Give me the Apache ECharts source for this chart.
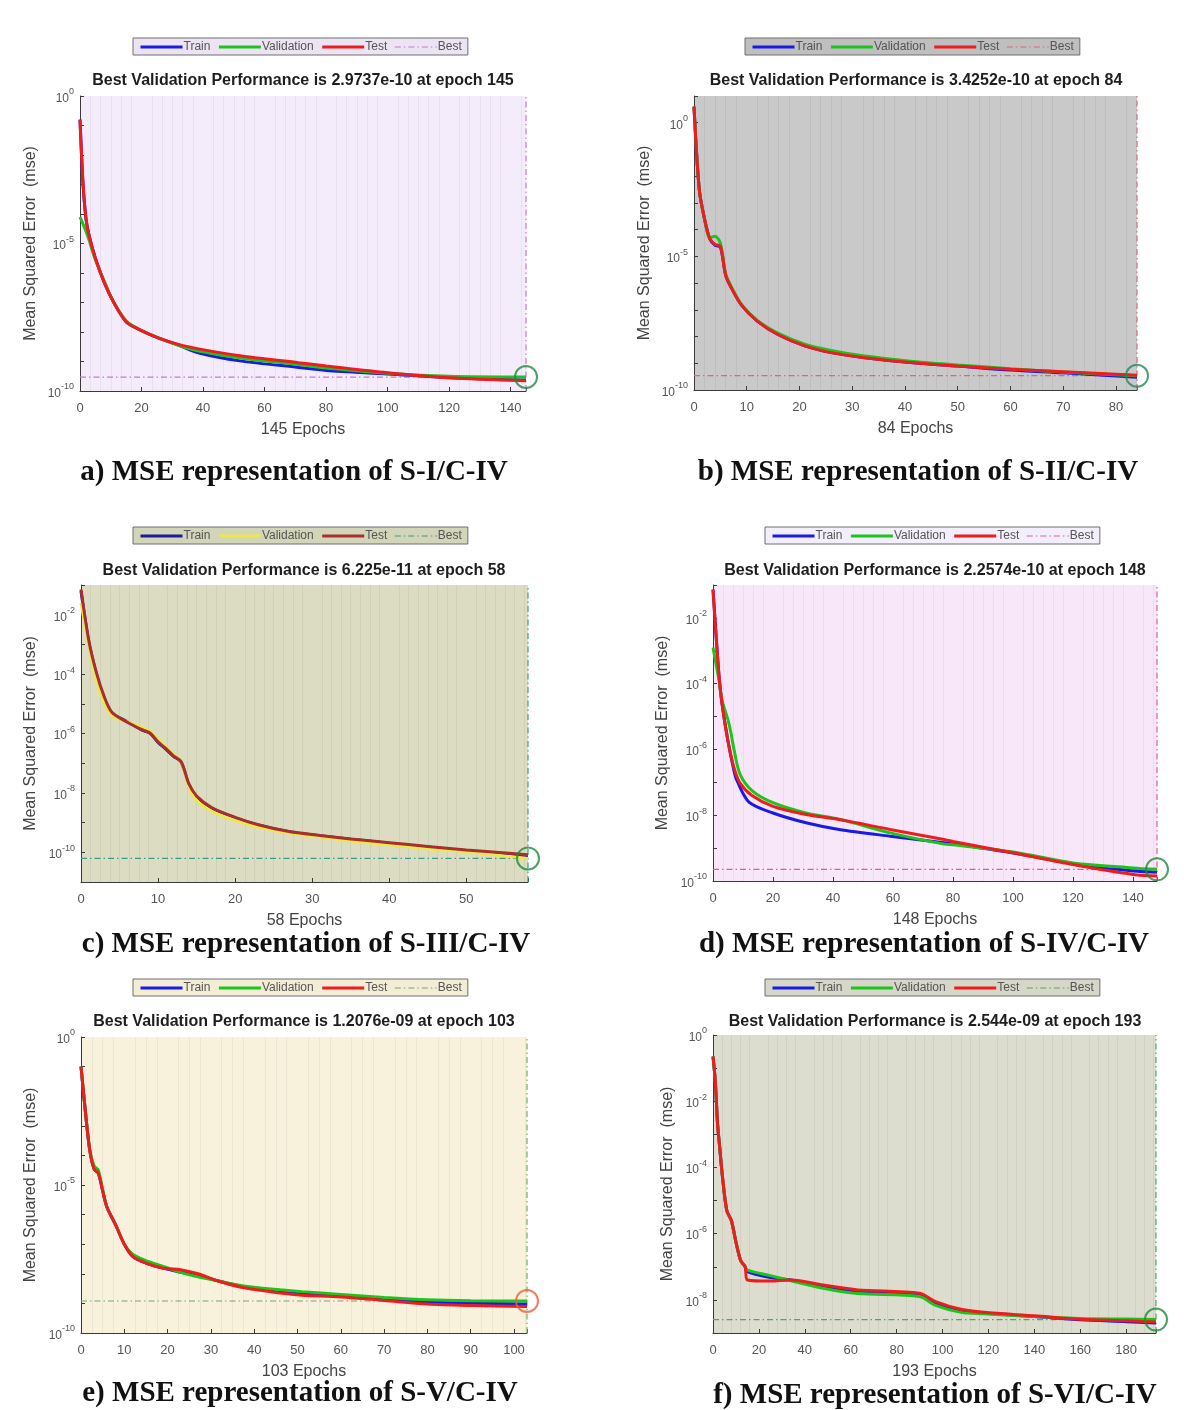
<!DOCTYPE html>
<html>
<head>
<meta charset="utf-8">
<script src="https://cdn.jsdelivr.net/npm/echarts@6/dist/echarts.min.js"></script>
<style>
html,body{margin:0;padding:0;background:#fff;}
#chart{width:1184px;height:1410px;}
</style>
</head>
<body>
<div id="chart"></div>
<script>
// ---------------- DATA ----------------
const legendNames = ['Train', 'Validation', 'Test', 'Best'];

// Panel a : S-I/C-IV  ([epoch, mse])
const aTrain = [[0,1.58e-1],[1,1.0e-3],[2,6.3e-5],[3,1.78e-5],[5,3.16e-6],[8,4.47e-7],[11,1.0e-7],[15,2.24e-8],[19,1.26e-8],[25,6.6e-9],[32,3.6e-9],[39,1.9e-9],[52,1.05e-9],[71,6.3e-10],[80,5.0e-10],[100,3.8e-10],[120,2.82e-10],[145,2.34e-10]];
const aVal   = [[0,7.9e-5],[1,4.5e-5],[2,2.5e-5],[3,1.26e-5],[5,2.8e-6],[8,5.0e-7],[11,1.0e-7],[15,2.4e-8],[19,1.26e-8],[25,6.6e-9],[32,3.55e-9],[39,2.24e-9],[52,1.32e-9],[71,7.9e-10],[80,6.0e-10],[100,4.0e-10],[120,3.16e-10],[145,2.9737e-10]];
const aTest  = [[0,1.58e-1],[1,1.0e-3],[2,6.3e-5],[3,1.78e-5],[5,3.16e-6],[8,4.47e-7],[11,1.0e-7],[15,2.24e-8],[19,1.26e-8],[25,6.6e-9],[32,3.8e-9],[39,2.63e-9],[52,1.58e-9],[71,9.1e-10],[80,7.08e-10],[100,4.17e-10],[120,2.82e-10],[145,2.24e-10]];
const aBestEpoch = 145, aBestValue = 2.9737e-10, aEpochs = 145;

// Panel b : S-II/C-IV
const bTrain = [[0,4.0],[1,3.16e-3],[2,2.5e-4],[3,4.5e-5],[4,2.6e-5],[5,2.24e-5],[6,2.0e-6],[7,7.1e-7],[9,1.5e-7],[12,3.8e-8],[16,1.17e-8],[21,4.5e-9],[26,2.5e-9],[32,1.66e-9],[41,1.07e-9],[50,7.9e-10],[60,5.6e-10],[70,4.4e-10],[84,3.0e-10]];
const bVal   = [[0,4.0],[1,3.16e-3],[2,2.5e-4],[3,5.0e-5],[4,5.6e-5],[5,3.16e-5],[6,2.24e-6],[7,7.9e-7],[9,1.58e-7],[12,4.0e-8],[16,1.32e-8],[21,5.2e-9],[26,3.0e-9],[32,1.9e-9],[41,1.2e-9],[50,8.7e-10],[60,6.3e-10],[70,4.7e-10],[84,3.4252e-10]];
const bTest  = [[0,4.0],[1,3.16e-3],[2,2.5e-4],[3,4.5e-5],[4,2.8e-5],[5,2.4e-5],[6,2.0e-6],[7,7.1e-7],[9,1.5e-7],[12,3.8e-8],[16,1.17e-8],[21,4.5e-9],[26,2.5e-9],[32,1.66e-9],[41,1.07e-9],[50,7.9e-10],[60,6.0e-10],[70,4.8e-10],[84,3.55e-10]];
const bBestEpoch = 84, bBestValue = 3.4252e-10, bEpochs = 84;

// Panel c : S-III/C-IV
const cTrain = [[0,6.3e-2],[1,1.26e-3],[2,1.0e-4],[3,1.58e-5],[4,5.0e-6],[6,2.5e-6],[8,1.26e-6],[9,1.0e-6],[10,5.0e-7],[11,3.0e-7],[12,1.7e-7],[13,1.1e-7],[14,1.9e-8],[15,7.4e-9],[17,3.0e-9],[20,1.45e-9],[23,8.3e-10],[27,4.9e-10],[31,3.6e-10],[35,2.75e-10],[40,2.0e-10],[45,1.5e-10],[50,1.12e-10],[58,7.1e-11]];
const cVal   = [[0,2.5e-2],[1,1.0e-3],[2,6.3e-5],[3,1.12e-5],[4,4.0e-6],[6,2.5e-6],[8,1.58e-6],[9,1.2e-6],[10,6.3e-7],[11,3.55e-7],[12,2.0e-7],[13,1.12e-7],[14,1.58e-8],[15,5.6e-9],[17,2.4e-9],[20,1.2e-9],[23,7.1e-10],[27,4.5e-10],[31,3.3e-10],[35,2.4e-10],[40,1.78e-10],[45,1.32e-10],[50,1.05e-10],[58,6.225e-11]];
const cTest  = [[0,7.1e-2],[1,1.41e-3],[2,1.12e-4],[3,1.78e-5],[4,5.2e-6],[6,2.4e-6],[8,1.32e-6],[9,1.02e-6],[10,5.2e-7],[11,3.16e-7],[12,1.78e-7],[13,1.12e-7],[14,2.0e-8],[15,7.9e-9],[17,3.16e-9],[20,1.51e-9],[23,8.5e-10],[27,5.0e-10],[31,3.7e-10],[35,2.82e-10],[40,2.1e-10],[45,1.58e-10],[50,1.2e-10],[58,8.3e-11]];
const cBestEpoch = 58, cBestValue = 6.225e-11, cEpochs = 58;

// Panel d : S-IV/C-IV
const dTrain = [[0,7.2e-2],[1,3.16e-3],[2,1.78e-4],[3,2.5e-5],[5,1.78e-6],[7,2.24e-7],[8,1.12e-7],[12,2.5e-8],[20,1.17e-8],[31,5.9e-9],[42,3.7e-9],[59,2.3e-9],[77,1.45e-9],[80,1.35e-9],[100,7.1e-10],[120,3.4e-10],[140,2.0e-10],[148,1.86e-10]];
const dVal   = [[0,1.26e-3],[1,4.0e-4],[2,1.26e-4],[3,3.16e-5],[5,7.9e-6],[6,3.16e-6],[7,1.0e-6],[9,1.78e-7],[13,5.6e-8],[20,2.4e-8],[31,1.17e-8],[42,7.6e-9],[59,2.9e-9],[77,1.32e-9],[80,1.26e-9],[100,7.6e-10],[120,3.55e-10],[140,2.5e-10],[148,2.2574e-10]];
const dTest  = [[0,7.2e-2],[1,3.16e-3],[2,1.78e-4],[3,2.5e-5],[5,1.78e-6],[7,2.8e-7],[9,9.5e-8],[13,4.0e-8],[20,1.86e-8],[31,1.05e-8],[42,7.4e-9],[59,3.7e-9],[77,1.82e-9],[80,1.58e-9],[100,7.2e-10],[120,3.16e-10],[140,1.58e-10],[148,1.41e-10]];
const dBestEpoch = 148, dBestValue = 2.2574e-10, dEpochs = 148;

// Panel e : S-V/C-IV
const eTrain = [[0,1.0e-1],[1,3.16e-3],[2,1.58e-4],[3,3.55e-5],[4,2.5e-5],[5,6.3e-6],[6,1.78e-6],[8,4.5e-7],[10,1.0e-7],[12,3.8e-8],[15,2.3e-8],[19,1.55e-8],[23,1.12e-8],[27,8.9e-9],[32,5.6e-9],[38,3.55e-9],[46,2.5e-9],[51,2.1e-9],[60,1.78e-9],[70,1.41e-9],[80,1.12e-9],[90,1.02e-9],[103,9.5e-10]];
const eVal   = [[0,1.0e-1],[1,3.16e-3],[2,1.58e-4],[3,4.5e-5],[4,3.16e-5],[5,7.1e-6],[6,1.78e-6],[8,4.5e-7],[10,1.0e-7],[12,4.5e-8],[15,2.8e-8],[19,1.78e-8],[23,1.12e-8],[27,7.9e-9],[32,5.6e-9],[38,3.8e-9],[46,2.9e-9],[51,2.5e-9],[60,2.0e-9],[70,1.58e-9],[80,1.32e-9],[90,1.23e-9],[103,1.2076e-9]];
const eTest  = [[0,1.0e-1],[1,3.16e-3],[2,1.58e-4],[3,3.55e-5],[4,2.5e-5],[5,6.3e-6],[6,1.78e-6],[8,4.5e-7],[10,1.0e-7],[12,3.8e-8],[15,2.3e-8],[19,1.55e-8],[23,1.38e-8],[27,1.0e-8],[32,5.5e-9],[38,3.3e-9],[46,2.24e-9],[51,1.9e-9],[60,1.66e-9],[70,1.26e-9],[80,9.5e-10],[90,8.5e-10],[103,7.9e-10]];
const eBestEpoch = 103, eBestValue = 1.2076e-9, eEpochs = 103;

// Panel f : S-VI/C-IV
const fTrain = [[0,2.24e-1],[1,4.0e-2],[2,2.0e-3],[3,3.55e-4],[4,6.3e-5],[6,5.0e-6],[8,2.5e-6],[10,5.6e-7],[12,1.58e-7],[14,1.0e-7],[15,7.1e-8],[25,4.7e-8],[34,4.0e-8],[48,2.6e-8],[63,1.86e-8],[90,1.45e-8],[97,7.9e-9],[108,4.8e-9],[118,4.0e-9],[140,3.16e-9],[160,2.5e-9],[180,2.2e-9],[193,2.0e-9]];
const fVal   = [[0,2.24e-1],[1,4.0e-2],[2,2.0e-3],[3,3.55e-4],[4,6.3e-5],[6,5.0e-6],[8,2.5e-6],[10,5.6e-7],[12,1.58e-7],[14,1.0e-7],[15,7.9e-8],[25,5.4e-8],[34,3.8e-8],[48,2.24e-8],[63,1.55e-8],[90,1.26e-8],[97,6.8e-9],[108,4.2e-9],[118,3.8e-9],[140,3.16e-9],[160,2.75e-9],[180,2.63e-9],[193,2.544e-9]];
const fTest  = [[0,2.24e-1],[1,4.0e-2],[2,2.0e-3],[3,3.55e-4],[4,6.3e-5],[6,5.0e-6],[8,2.5e-6],[10,5.6e-7],[12,1.58e-7],[14,1.0e-7],[15,4.0e-8],[25,3.7e-8],[34,4.0e-8],[48,2.8e-8],[63,2.0e-8],[90,1.58e-8],[97,8.9e-9],[108,5.2e-9],[118,4.2e-9],[140,3.3e-9],[160,2.6e-9],[180,2.34e-9],[193,2.14e-9]];
const fBestEpoch = 193, fBestValue = 2.544e-9, fEpochs = 193;

const perfTitles = [
  'Best Validation Performance is 2.9737e-10 at epoch 145',
  'Best Validation Performance is 3.4252e-10 at epoch 84',
  'Best Validation Performance is 6.225e-11 at epoch 58',
  'Best Validation Performance is 2.2574e-10 at epoch 148',
  'Best Validation Performance is 1.2076e-09 at epoch 103',
  'Best Validation Performance is 2.544e-09 at epoch 193'
];
const captions = [
  'a) MSE representation of S-I/C-IV',
  'b) MSE representation of S-II/C-IV',
  'c) MSE representation of S-III/C-IV',
  'd) MSE representation of S-IV/C-IV',
  'e) MSE representation of S-V/C-IV',
  'f) MSE representation of S-VI/C-IV'
];
const yAxisName = 'Mean Squared Error  (mse)';

// --------------- LAYOUT / STYLE ----------------
const panels = [
  {train:aTrain, val:aVal, test:aTest, bestEpoch:aBestEpoch, bestValue:aBestValue, epochs:aEpochs,
   yMin:1e-10, yMax:1, labelEvery:5, xInterval:20, minorSplit:6, yNameGap:41,
   grid:{left:80, top:96, width:446, height:295}, legendPos:{left:133, top:38}, titlePos:[303,81], capPos:[294,473],
   bg:'#f4ecfb', legendBg:'#ece4f3', colors:['#1a1ae6','#1cc41c','#ee1c1c','#c27ad0'], circle:'#1f8a3c'},
  {train:bTrain, val:bVal, test:bTest, bestEpoch:bBestEpoch, bestValue:bBestValue, epochs:bEpochs,
   yMin:1e-10, yMax:10, labelEvery:5, xInterval:10, minorSplit:5, yNameGap:41,
   grid:{left:694, top:96, width:443, height:294}, legendPos:{left:745, top:38}, titlePos:[916,81], capPos:[918,473],
   bg:'#c9c9c9', legendBg:'#bfbfbf', colors:['#1a1ae6','#1cc41c','#ee1c1c','#d46a7a'], circle:'#1f8a5c'},
  {train:cTrain, val:cVal, test:cTest, bestEpoch:cBestEpoch, bestValue:cBestValue, epochs:cEpochs,
   yMin:1e-11, yMax:1e-1, labelEvery:2, xInterval:10, minorSplit:8, yNameGap:42,
   grid:{left:81, top:585, width:447, height:297}, legendPos:{left:133, top:527}, titlePos:[304,571], capPos:[306,945],
   bg:'#dbdcc1', legendBg:'#d3d5b8', colors:['#1c1c9a','#ece84a','#a8302c','#3e9c86'], circle:'#1f8a3c'},
  {train:dTrain, val:dVal, test:dTest, bestEpoch:dBestEpoch, bestValue:dBestValue, epochs:dEpochs,
   yMin:1e-10, yMax:1e-1, labelEvery:2, xInterval:20, minorSplit:6, yNameGap:42,
   grid:{left:713, top:585, width:444, height:296}, legendPos:{left:765, top:527}, titlePos:[935,571], capPos:[924,945],
   bg:'#f8e7f9', legendBg:'#f2eefc', colors:['#1a1ae6','#1cc41c','#ee1c1c','#e0608a'], circle:'#1f8a3c'},
  {train:eTrain, val:eVal, test:eTest, bestEpoch:eBestEpoch, bestValue:eBestValue, epochs:eEpochs,
   yMin:1e-10, yMax:1, labelEvery:5, xInterval:10, minorSplit:4, yNameGap:42,
   grid:{left:81, top:1037, width:446, height:296}, legendPos:{left:133, top:979}, titlePos:[304,1022], capPos:[300,1394],
   bg:'#f8f2dd', legendBg:'#f3edd6', colors:['#1a1ae6','#1cc41c','#ee1c1c','#74a86a'], circle:'#e8603c'},
  {train:fTrain, val:fVal, test:fTest, bestEpoch:fBestEpoch, bestValue:fBestValue, epochs:fEpochs,
   yMin:1e-9, yMax:1, labelEvery:2, xInterval:20, minorSplit:5, yNameGap:37,
   grid:{left:713, top:1035, width:443, height:298}, legendPos:{left:765, top:979}, titlePos:[935,1022], capPos:[935,1396],
   bg:'#dcdccf', legendBg:'#d6d6c9', colors:['#1a1ae6','#1cc41c','#ee1c1c','#58a45a'], circle:'#1f8a3c'}
];

const bestDash = [6, 3, 1.5, 3];
const hiddenSymbol = {color:'rgba(0,0,0,0)', borderWidth:0, opacity:0};
const grids = [], xAxes = [], yAxes = [], series = [], legends = [], graphics = [];

panels.forEach((p, i) => {
  grids.push(Object.assign({show:true, backgroundColor:p.bg, borderWidth:0, containLabel:false}, p.grid));
  xAxes.push({
    type:'value', gridIndex:i, min:0, max:p.epochs, interval:p.xInterval,
    axisLine:{show:true, onZero:false, lineStyle:{color:'#3a3a3a', width:1}},
    axisTick:{show:true, inside:true, length:4, lineStyle:{color:'#3a3a3a'}},
    axisLabel:{color:'#555', fontSize:13, fontFamily:'Liberation Sans, Arial', margin:11,
      formatter: v => (v % p.xInterval === 0 ? String(v) : '')},
    splitLine:{show:false},
    minorTick:{show:false, splitNumber:p.minorSplit},
    minorSplitLine:{show:true, lineStyle:{color:'rgba(0,0,0,0.05)', width:1}},
    name: p.epochs + ' Epochs', nameLocation:'middle', nameGap:31,
    nameTextStyle:{fontSize:16, color:'#444', fontFamily:'Liberation Sans, Arial'}
  });
  yAxes.push({
    type:'log', logBase:10, gridIndex:i, min:p.yMin, max:p.yMax, interval:1,
    axisLine:{show:true, lineStyle:{color:'#3a3a3a', width:1}},
    axisTick:{show:true, inside:true, length:4, lineStyle:{color:'#3a3a3a'}},
    splitLine:{show:false},
    axisLabel:{color:'#555', margin:6,
      formatter: v => {
        const e = Math.round(Math.log10(v));
        return (e % p.labelEvery === 0) ? '{b|10}{s|' + e + '}' : '';
      },
      rich:{
        b:{fontSize:12, color:'#555', fontFamily:'Liberation Sans, Arial', padding:[5,0,0,0]},
        s:{fontSize:9, color:'#555', fontFamily:'Liberation Sans, Arial', verticalAlign:'top'}
      }
    },
    name: yAxisName, nameLocation:'middle', nameGap:p.yNameGap,
    nameTextStyle:{fontSize:16, color:'#444', fontFamily:'Liberation Sans, Arial'}
  });
  const [cTr, cVa, cTe, cBe] = p.colors;
  const common = {type:'line', xAxisIndex:i, yAxisIndex:i, symbol:'none', smooth:0.3, silent:true, clip:true};
  series.push(Object.assign({}, common, {name:'Best', smooth:false,
    data:[[0, p.bestValue], [p.epochs, p.bestValue]],
    lineStyle:{color:cBe, width:1.2, type:bestDash}, itemStyle:{color:cBe}, z:1}));
  series.push(Object.assign({}, common, {name:'Best', smooth:false,
    data:[[p.bestEpoch, p.yMin], [p.bestEpoch, p.yMax]],
    lineStyle:{color:cBe, width:1.2, type:bestDash}, itemStyle:{color:cBe}, z:1}));
  series.push(Object.assign({}, common, {name:'Train', data:p.train, lineStyle:{color:cTr, width:3}, itemStyle:{color:cTr}, z:2}));
  series.push(Object.assign({}, common, {name:'Validation', data:p.val, lineStyle:{color:cVa, width:3}, itemStyle:{color:cVa}, z:3}));
  series.push(Object.assign({}, common, {name:'Test', data:p.test, lineStyle:{color:cTe, width:3}, itemStyle:{color:cTe}, z:4}));
  series.push({type:'scatter', name:'bestMarker', xAxisIndex:i, yAxisIndex:i, silent:true,
    data:[[p.bestEpoch, p.bestValue]], symbol:'circle', symbolSize:22, clip:false,
    itemStyle:{color:'rgba(0,0,0,0)', borderColor:p.circle, borderWidth:2}, z:6});

  legends.push({
    left:p.legendPos.left, top:p.legendPos.top, orient:'horizontal',
    backgroundColor:p.legendBg, borderColor:'#6e6e6e', borderWidth:1, borderRadius:0,
    padding:[3,6,2,6], itemGap:7, itemWidth:42, itemHeight:10, selectedMode:false,
    textStyle:{fontSize:12, color:'#555', fontFamily:'Liberation Sans, Arial', padding:[0,0,0,-4]},
    data:[
      {name:'Train', lineStyle:{color:cTr, width:3, type:'solid'}, itemStyle:hiddenSymbol},
      {name:'Validation', lineStyle:{color:cVa, width:3, type:'solid'}, itemStyle:hiddenSymbol},
      {name:'Test', lineStyle:{color:cTe, width:3, type:'solid'}, itemStyle:hiddenSymbol},
      {name:'Best', lineStyle:{color:cBe, width:1.2, type:bestDash}, itemStyle:hiddenSymbol}
    ]
  });

  graphics.push({type:'text', x:p.titlePos[0], y:p.titlePos[1], silent:true,
    style:{text:perfTitles[i], font:'bold 16px "Liberation Sans", Arial', fill:'#1e1e1e',
      align:'center', verticalAlign:'middle', textAlign:'center', textVerticalAlign:'middle'}});
  graphics.push({type:'text', x:p.capPos[0], y:p.capPos[1], silent:true,
    style:{text:captions[i], font:'bold 29px "Liberation Serif", "Times New Roman", serif', fill:'#111',
      align:'center', verticalAlign:'middle', textAlign:'center', textVerticalAlign:'middle'}});
});

const chart = echarts.init(document.getElementById('chart'), null, {renderer:'canvas', width:1184, height:1410});
chart.setOption({
  backgroundColor:'#ffffff',
  animation:false,
  grid:grids, xAxis:xAxes, yAxis:yAxes, series:series, legend:legends, graphic:graphics
});
</script>
</body>
</html>
